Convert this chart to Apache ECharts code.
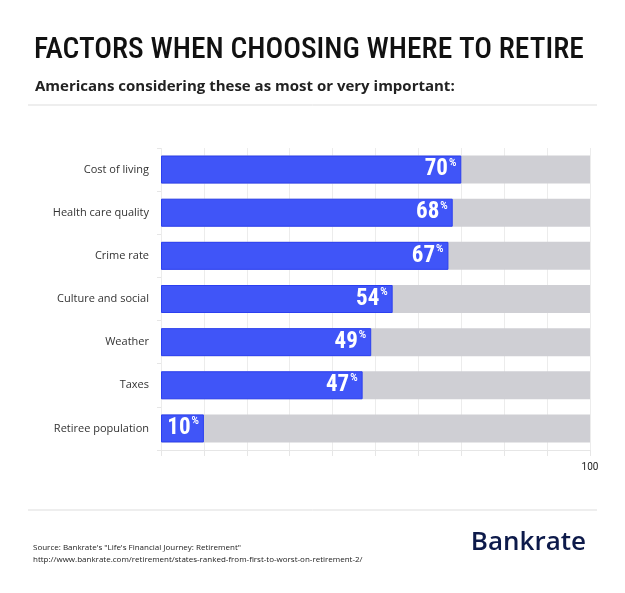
<!DOCTYPE html>
<html><head><meta charset="utf-8">
<script src="https://cdn.jsdelivr.net/npm/echarts@6/dist/echarts.min.js"></script>
<style>html,body{margin:0;padding:0;background:#fff}#c{width:625px;height:593px}</style>
</head><body><div id="c"></div>
<script>
const categories = ["Cost of living","Health care quality","Crime rate","Culture and social","Weather","Taxes","Retiree population"];
const values = [70,68,67,54,49,47,10];
const totals = [100,100,100,100,100,100,100];
const chart = echarts.init(document.getElementById('c'));
chart.setOption({
  backgroundColor:'#fff',
  animation:false,
  title:[
    {text:'FACTORS WHEN CHOOSING WHERE TO RETIRE',left:29,top:31,textStyle:{fontFamily:'Roboto Condensed, Liberation Sans Narrow, DejaVu Sans Condensed, Roboto',fontSize:29.5,fontWeight:500,color:'#111'}},
    {text:'Americans considering these as most or very important:',left:30,top:74,textStyle:{fontFamily:'Open Sans',fontSize:15,fontWeight:'bold',color:'#222'}},
    {text:"Source: Bankrate's \"Life's Financial Journey: Retirement\"\nhttp://www.bankrate.com/retirement/states-ranked-from-first-to-worst-on-retirement-2/",left:28,top:537,textStyle:{fontFamily:'Open Sans',fontSize:8,fontWeight:'normal',color:'#222',lineHeight:12}},
    {text:'Bankrate',right:34,top:525,textStyle:{fontFamily:'Open Sans',fontSize:26,fontWeight:600,color:'#0d1a4a'}}
  ],
  graphic:[
    {type:'line',shape:{x1:28,y1:105,x2:597,y2:105},style:{stroke:'#ddd',lineWidth:1}},
    {type:'line',shape:{x1:28,y1:510,x2:597,y2:510},style:{stroke:'#ddd',lineWidth:1}}
  ],
  grid:{left:161,right:35,top:148,bottom:143},
  xAxis:{type:'value',min:0,max:100,interval:10,
    axisLine:{show:true,lineStyle:{color:'#e6e6e6'}},
    axisTick:{show:true,length:6,lineStyle:{color:'#e6e6e6'}},
    axisLabel:{color:'#222',fontSize:10,fontFamily:'Roboto',margin:12,formatter:v=>v===100?'100':''},
    splitLine:{show:true,lineStyle:{color:'#ececec'}}},
  yAxis:{type:'category',data:categories,inverse:true,
    axisLine:{show:false},axisTick:{show:true,length:4,lineStyle:{color:'#e6e6e6'}},
    axisLabel:{color:'#333',fontSize:11,fontFamily:'Open Sans',margin:12}},
  series:[
    {type:'bar',data:totals,barWidth:28,itemStyle:{color:'#cfcfd4'},silent:true,z:1},
    {type:'bar',data:values,barWidth:28,barGap:'-100%',z:2,
     itemStyle:{color:'#4055f8',borderColor:'#2b3ff0',borderWidth:1},
     label:{show:true,position:'insideRight',distance:5,
       formatter:p=>'{n|'+p.value+'}{p|%}',
       rich:{n:{fontFamily:'Roboto Condensed, DejaVu Sans Condensed, Roboto',fontSize:23,fontWeight:'bold',color:'#fff'},
             p:{fontFamily:'Roboto',fontSize:10,fontWeight:'bold',color:'#fff',verticalAlign:'top',padding:[0,0,10,1]}}}}
  ]
});
</script></body></html>
